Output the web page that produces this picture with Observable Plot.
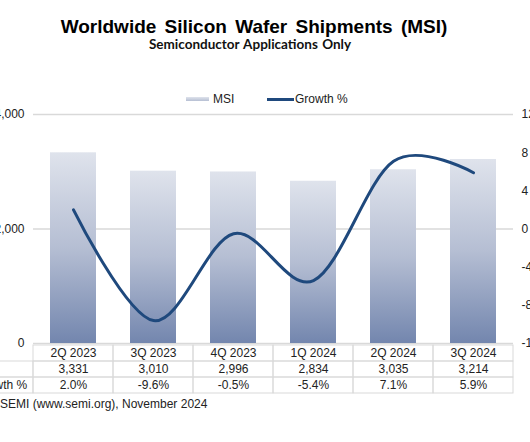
<!DOCTYPE html>
<html>
<head>
<meta charset="utf-8">
<script src="https://cdn.jsdelivr.net/npm/d3@7"></script>
<script src="https://cdn.jsdelivr.net/npm/@observablehq/plot@0.6"></script>
<style>
  html, body { margin: 0; padding: 0; background: #fff; }
  #wrap { position: relative; width: 530px; height: 442px; overflow: hidden; font-family: "Liberation Sans", Arial, sans-serif; color: #222; }
  .abs { position: absolute; white-space: nowrap; }
  #title { left: 0; width: 508px; top: 17px; text-align: center; font-size: 19px; line-height: 19px; font-weight: bold; color: #000; word-spacing: 3px; }
  #subtitle { left: 0; width: 500px; top: 38px; text-align: center; font-family: Lato, "Open Sans", sans-serif; font-size: 13.5px; line-height: 13.5px; font-weight: bold; color: #111; word-spacing: 1px; }
  .legtext { top: 93px; font-size: 12px; line-height: 12px; color: #222; }
  #caption { left: 0; top: 398px; font-size: 12px; line-height: 12px; color: #222; }
  #chart { position: absolute; left: 0; top: 60px; }
  #table { position: absolute; left: 0; top: 343px; }
</style>
</head>
<body>
<div id="wrap">
  <div id="title" class="abs">Worldwide Silicon Wafer Shipments (MSI)</div>
  <div id="subtitle" class="abs">Semiconductor Applications Only</div>
  <div class="abs" style="left:186px; top:97px; width:23px; height:4px; background:linear-gradient(#dfe3ec,#b6bfd3);"></div>
  <div class="abs legtext" style="left:213px;">MSI</div>
  <div class="abs" style="left:267px; top:97.5px; width:27px; height:3px; background:#1f497d;"></div>
  <div class="abs legtext" style="left:295px;">Growth %</div>
  <div id="chart"></div>
  <div id="table"></div>
  <div id="caption" class="abs">SEMI (www.semi.org), November 2024</div>
</div>
<script>
const quarters = ["2Q 2023", "3Q 2023", "4Q 2023", "1Q 2024", "2Q 2024", "3Q 2024"];
const msi = [3331, 3010, 2996, 2834, 3035, 3214];
const growth = [2.0, -9.6, -0.5, -5.4, 7.1, 5.9];
const msiTicks = [0, 2000, 4000];
const growthTicks = [-12, -8, -4, 0, 4, 8, 12];
const rowNames = ["MSI", "Growth %"];

const data = quarters.map((q, i) => ({q, msi: msi[i], growth: growth[i]}));
// growth (%) shown on the right axis: -12..12 maps onto 0..4000 of the left axis
const g2y = g => 2000 + g * 2000 / 12;
const y2g = v => (v - 2000) * 12 / 2000;
const fmt = d3.format(",");

const font = '"Liberation Sans", Arial, sans-serif';

const chart = Plot.plot({
  width: 530, height: 340,
  marginTop: 54, marginBottom: 57, marginLeft: 33, marginRight: 17,
  x: {type: "band", domain: quarters, range: [33, 513], paddingInner: 0.42, paddingOuter: 0.21, axis: null},
  y: {domain: [0, 4000], axis: null},
  style: {fontFamily: font, fontSize: "12px", color: "#222", background: "transparent", overflow: "visible"},
  marks: [
    Plot.ruleY(msiTicks, {stroke: "#d9d9d9", strokeWidth: 1.5}),
    Plot.barY(data, {x: "q", y: "msi", fill: "url(#barGrad)"}),
    Plot.line(data, {x: "q", y: d => g2y(d.growth), curve: "cardinal", stroke: "#1f497d", strokeWidth: 3}),
    Plot.axisY(msiTicks, {anchor: "left", label: null, tickSize: 0, tickPadding: 9, tickFormat: fmt, fill: "#222"}),
    Plot.axisY(growthTicks.map(g2y), {anchor: "right", label: null, tickSize: 0, tickPadding: 8, tickFormat: v => String(Math.round(y2g(v))), fill: "#222"})
  ]
});
const NS = "http://www.w3.org/2000/svg";
const defs = document.createElementNS(NS, "defs");
const grad = document.createElementNS(NS, "linearGradient");
grad.setAttribute("id", "barGrad");
grad.setAttribute("x1", "0"); grad.setAttribute("y1", "0");
grad.setAttribute("x2", "0"); grad.setAttribute("y2", "1");
[["0", "#dfe3ec"], ["0.5", "#b5bed3"], ["1", "#7386ae"]].forEach(([o, c]) => {
  const s = document.createElementNS(NS, "stop");
  s.setAttribute("offset", o); s.setAttribute("stop-color", c);
  grad.appendChild(s);
});
defs.appendChild(grad);
chart.insertBefore(defs, chart.firstChild);
document.getElementById("chart").appendChild(chart);

// data table under the chart
const rows = ["cat", "msi", "growth"];
const body = [];
quarters.forEach((q, i) => {
  body.push({q, row: "cat", text: q});
  body.push({q, row: "msi", text: fmt(msi[i])});
  body.push({q, row: "growth", text: growth[i].toFixed(1) + "%"});
});
const labels = [{q: "", row: "msi", text: rowNames[0]}, {q: "", row: "growth", text: rowNames[1]}];

const table = Plot.plot({
  width: 530, height: 51,
  marginTop: 0, marginBottom: 0, marginLeft: 0, marginRight: 0,
  x: {type: "band", domain: ["", ...quarters], range: [-47, 513], padding: 0, axis: null},
  y: {type: "band", domain: rows, range: [0.5, 50.5], padding: 0, axis: null},
  style: {fontFamily: font, fontSize: "12px", color: "#222", background: "transparent", overflow: "visible"},
  marks: [
    Plot.cell([...body, ...labels], {x: "q", y: "row", fill: "none", stroke: "#d9d9d9", inset: 0}),
    Plot.text(body, {x: "q", y: "row", text: "text", fill: "#222"}),
    Plot.text(labels, {x: "q", y: "row", text: "text", textAnchor: "start", dx: -19, fill: "#222"})
  ]
});
document.getElementById("table").appendChild(table);
</script>
</body>
</html>
